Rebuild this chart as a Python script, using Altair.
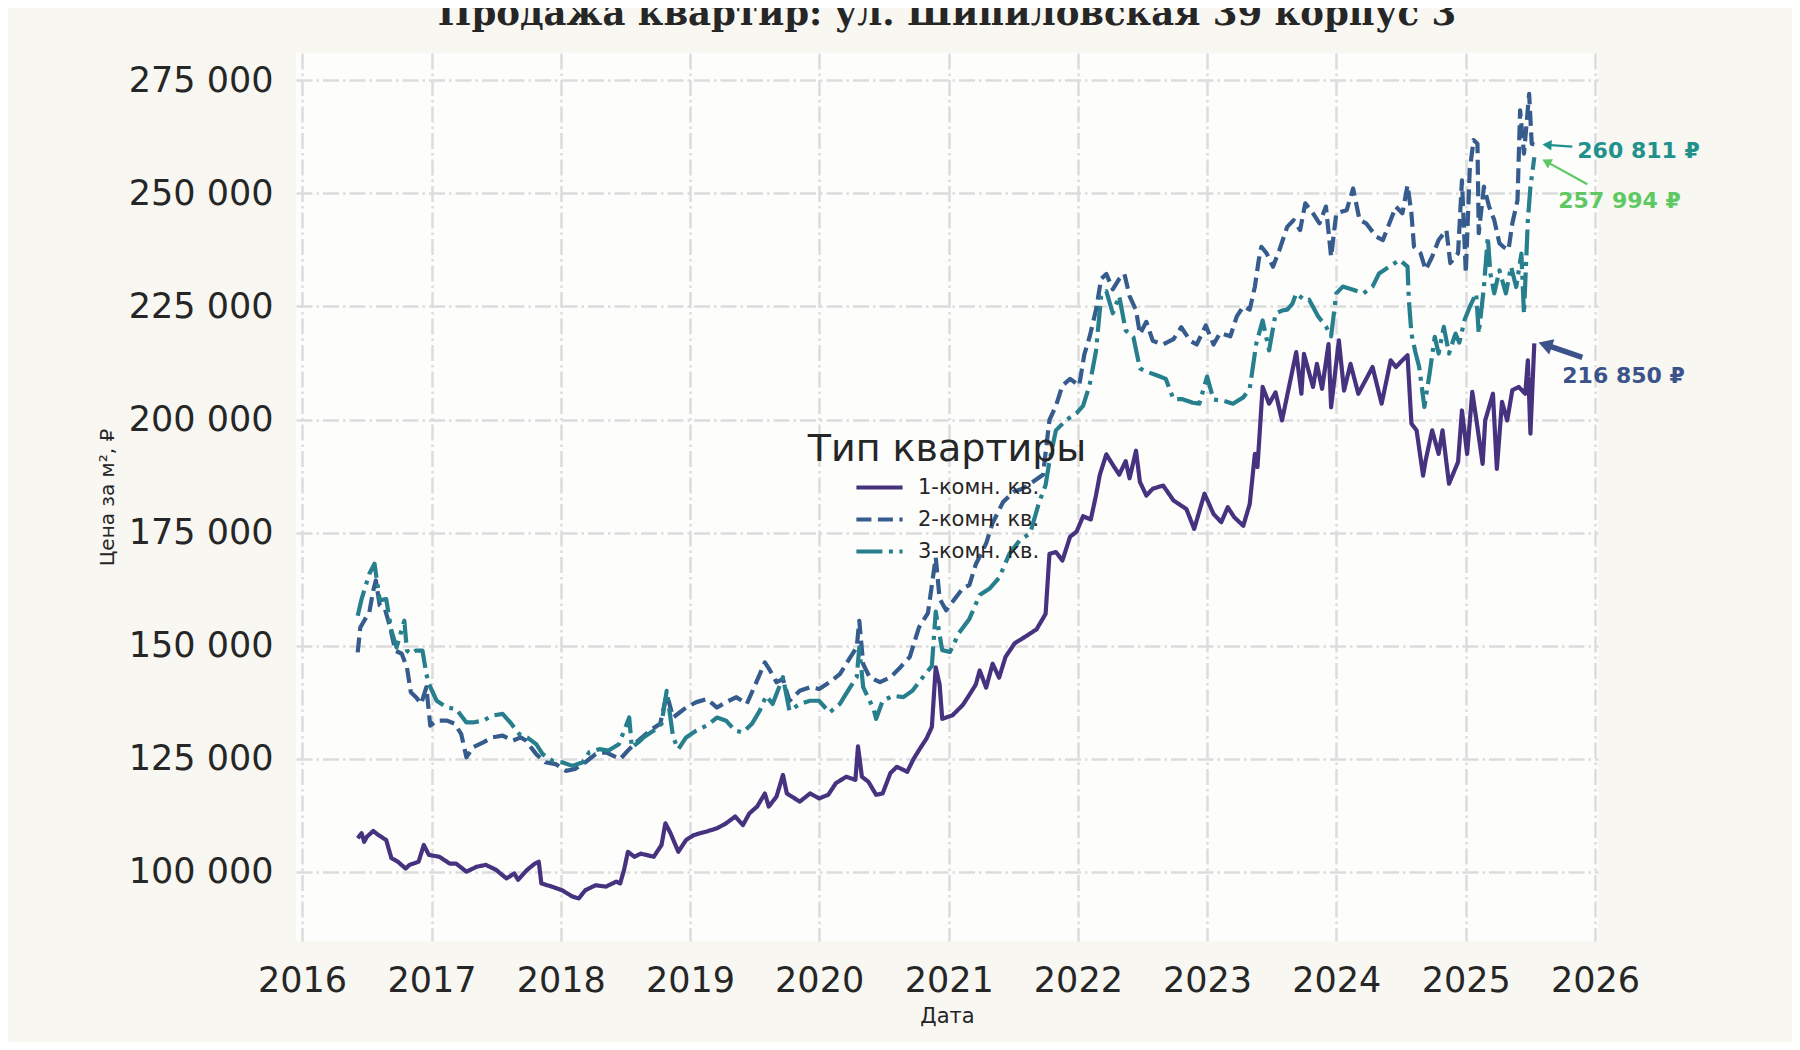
import math
from datetime import datetime

import altair as alt
import pandas as pd

TITLE = "Продажа квартир: ул. Шипиловская 39 корпус 3"
X_TITLE = "Дата"
Y_TITLE = "Цена за м², ₽"
LEGEND_TITLE = "Тип квартиры"
SERIES = ["1-комн. кв.", "2-комн. кв.", "3-комн. кв."]
COLORS = ["#46327e", "#365c8d", "#277f8e"]
DASHES = [[1, 0], [15, 6.5], [26, 6.5, 4, 6.5]]
ANN_LABELS = ["216 850 ₽", "260 811 ₽", "257 994 ₽"]
ANN_COLORS = ["#3b528b", "#21918c", "#5ec962"]
Y_TICKS = [100000, 125000, 150000, 175000, 200000, 225000, 250000, 275000]
X_TICK_YEARS = list(range(2016, 2027))

# 1-комн. кв. (decimal year, thousand roubles per m²)
years1 = [2016.43, 2016.46, 2016.48, 2016.50, 2016.55, 2016.59, 2016.65, 2016.69, 2016.74, 2016.80, 2016.83, 2016.90, 2016.94, 2016.98,
          2017.06, 2017.14, 2017.19, 2017.27, 2017.35, 2017.42, 2017.50, 2017.58, 2017.64, 2017.67, 2017.74, 2017.80, 2017.83, 2017.85, 2017.93,
          2018.01, 2018.09, 2018.14, 2018.19, 2018.27, 2018.35, 2018.43, 2018.46, 2018.49, 2018.52, 2018.57, 2018.62, 2018.72, 2018.78, 2018.81, 2018.85, 2018.91, 2018.97,
          2019.03, 2019.13, 2019.21, 2019.28, 2019.35, 2019.41, 2019.46, 2019.52, 2019.58, 2019.61, 2019.67, 2019.72, 2019.75, 2019.85, 2019.93,
          2020.00, 2020.07, 2020.13, 2020.21, 2020.28, 2020.30, 2020.33, 2020.38, 2020.44, 2020.49, 2020.55, 2020.60, 2020.68, 2020.73, 2020.78, 2020.83, 2020.87, 2020.90, 2020.93, 2020.95,
          2021.03, 2021.11, 2021.16, 2021.21, 2021.24, 2021.29, 2021.34, 2021.39, 2021.44, 2021.51, 2021.60, 2021.68, 2021.75, 2021.78, 2021.83, 2021.88, 2021.94, 2021.99,
          2022.04, 2022.10, 2022.14, 2022.17, 2022.22, 2022.27, 2022.32, 2022.37, 2022.40, 2022.45, 2022.48, 2022.53, 2022.58, 2022.66, 2022.74, 2022.84, 2022.90, 2022.98,
          2023.05, 2023.11, 2023.16, 2023.21, 2023.28, 2023.33, 2023.37, 2023.39, 2023.43, 2023.48, 2023.53, 2023.58, 2023.62, 2023.69, 2023.73, 2023.75, 2023.82, 2023.85, 2023.89, 2023.94, 2023.96,
          2024.02, 2024.06, 2024.11, 2024.17, 2024.28, 2024.35, 2024.42, 2024.46, 2024.51, 2024.55, 2024.58, 2024.62, 2024.67, 2024.69, 2024.74, 2024.79, 2024.82, 2024.87, 2024.94, 2024.97,
          2025.01, 2025.05, 2025.09, 2025.13, 2025.15, 2025.21, 2025.24, 2025.28, 2025.32, 2025.36, 2025.41, 2025.46, 2025.48, 2025.50, 2025.53]
vals1 = [107.4, 108.5, 106.6, 107.7, 109.0, 108.1, 107.0, 103.0, 102.2, 100.7, 101.5, 102.2, 105.9, 103.7,
         103.3, 101.8, 101.8, 100.0, 101.1, 101.5, 100.4, 98.5, 99.6, 98.2, 100.4, 101.8, 102.2, 97.4, 96.7,
         95.9, 94.5, 94.1, 95.9, 97.0, 96.7, 97.8, 97.4, 100.4, 104.4, 103.3, 104.0, 103.3, 105.9, 110.7, 108.5, 104.4, 107.0,
         108.1, 108.9, 109.6, 110.7, 112.2, 110.3, 112.9, 114.4, 117.3, 114.4, 116.6, 121.4, 117.3, 115.5, 117.3,
         116.2, 117.0, 119.6, 121.0, 120.3, 127.7, 121.0, 119.9, 117.0, 117.3, 121.8, 123.2, 122.1, 125.0, 127.3, 129.5, 132.0, 145.2, 141.4, 133.8,
         134.6, 136.9, 139.1, 141.4, 144.5, 140.7, 146.0, 142.9, 147.5, 150.5, 152.1, 153.6, 157.0, 170.3, 170.7, 168.8, 174.1, 175.2,
         178.6, 177.9, 183.2, 187.8, 192.3, 190.0, 187.8, 190.8, 187.0, 193.1, 186.2, 183.2, 184.7, 185.4, 182.1, 180.2, 175.8, 183.6,
         179.1, 177.3, 180.6, 178.4, 176.5, 181.3, 192.4, 189.5, 207.2, 203.5, 206.0, 199.8, 205.3, 214.9, 205.7, 214.5, 207.2, 212.3, 206.8, 216.7, 202.7,
         217.5, 206.4, 212.3, 205.7, 211.6, 203.5, 213.1, 211.6, 213.1, 214.2, 199.1, 197.6, 187.6, 191.0, 197.6, 192.4, 197.6, 185.8, 190.6, 202.0,
         192.4, 206.1, 198.3, 190.2, 199.8, 205.7, 189.1, 203.9, 199.8, 206.5, 207.2, 205.7, 213.1, 196.9, 216.85]

# 2-комн. кв.
years2 = [2016.43, 2016.45, 2016.48, 2016.52, 2016.55, 2016.57, 2016.60, 2016.64, 2016.68, 2016.72, 2016.77, 2016.81, 2016.84, 2016.88, 2016.92, 2016.96, 2016.99,
          2017.04, 2017.12, 2017.18, 2017.23, 2017.27, 2017.32, 2017.40, 2017.47, 2017.55, 2017.63, 2017.69, 2017.73, 2017.81, 2017.88, 2017.96,
          2018.04, 2018.11, 2018.19, 2018.27, 2018.35, 2018.46, 2018.53, 2018.60, 2018.69, 2018.77, 2018.82, 2018.87, 2018.92, 2018.97,
          2019.05, 2019.13, 2019.21, 2019.28, 2019.36, 2019.44, 2019.52, 2019.58, 2019.62, 2019.67, 2019.72, 2019.77, 2019.85, 2019.93,
          2020.00, 2020.08, 2020.16, 2020.24, 2020.29, 2020.31, 2020.34, 2020.39, 2020.47, 2020.55, 2020.62, 2020.70, 2020.77, 2020.84, 2020.90, 2020.93, 2020.98,
          2021.03, 2021.11, 2021.16, 2021.21, 2021.29, 2021.34, 2021.42, 2021.50, 2021.57, 2021.65, 2021.73, 2021.78, 2021.83, 2021.88, 2021.94,
          2022.01, 2022.05, 2022.09, 2022.14, 2022.18, 2022.22, 2022.27, 2022.32, 2022.36, 2022.40, 2022.45, 2022.48, 2022.53, 2022.58, 2022.66, 2022.74, 2022.80, 2022.87, 2022.92, 2022.99,
          2023.05, 2023.10, 2023.18, 2023.23, 2023.28, 2023.33, 2023.37, 2023.40, 2023.42, 2023.46, 2023.51, 2023.56, 2023.62, 2023.67, 2023.72, 2023.76, 2023.82, 2023.87, 2023.92, 2023.96,
          2024.00, 2024.08, 2024.13, 2024.18, 2024.23, 2024.31, 2024.36, 2024.41, 2024.46, 2024.51, 2024.55, 2024.58, 2024.60, 2024.65, 2024.69, 2024.74, 2024.79, 2024.85, 2024.88, 2024.94, 2024.97,
          2025.00, 2025.03, 2025.06, 2025.09, 2025.10, 2025.14, 2025.18, 2025.22, 2025.26, 2025.29, 2025.33, 2025.36, 2025.40, 2025.42, 2025.45, 2025.49, 2025.51, 2025.53]
vals2 = [148.5, 154.0, 155.5, 157.4, 162.2, 164.4, 158.9, 158.1, 154.1, 148.9, 148.2, 145.2, 139.7, 138.6, 137.1, 140.8, 132.3,
         133.4, 133.4, 132.7, 130.4, 125.3, 127.5, 128.6, 129.7, 130.1, 129.0, 129.7, 129.0, 126.0, 124.2, 123.8,
         122.3, 122.7, 124.2, 126.0, 126.4, 124.9, 127.1, 129.0, 131.2, 132.7, 139.3, 134.1, 135.2, 136.3,
         137.5, 138.2, 136.3, 137.5, 138.6, 137.1, 142.3, 146.3, 144.5, 141.9, 142.6, 137.8, 140.0, 140.8,
         140.4, 141.9, 143.7, 147.4, 149.6, 155.5, 145.9, 143.0, 141.9, 143.0, 145.0, 147.5, 154.0, 157.2, 169.5, 160.4, 157.8,
         159.7, 162.7, 163.4, 168.0, 172.6, 177.1, 181.7, 184.0, 184.7, 186.2, 187.8, 199.9, 203.0, 207.5, 209.0,
         207.5, 214.4, 218.2, 224.2, 231.1, 232.2, 228.8, 231.1, 232.2, 227.3, 224.2, 218.9, 221.6, 217.4, 216.6, 217.8, 220.4, 217.4, 216.6, 220.8,
         216.6, 219.1, 218.4, 222.8, 225.0, 224.3, 229.4, 235.3, 238.2, 236.8, 233.8, 237.5, 242.6, 244.1, 241.9, 247.8, 245.6, 243.4, 247.1, 236.0,
         245.6, 246.3, 251.1, 244.1, 243.4, 240.4, 239.7, 243.4, 247.1, 245.6, 251.8, 245.6, 238.2, 236.8, 233.1, 236.0, 239.7, 241.9, 234.6, 236.8, 252.9,
         232.4, 255.1, 261.8, 261.0, 241.2, 251.5, 247.1, 244.1, 239.0, 238.2, 237.5, 243.4, 248.5, 268.4, 258.8, 272.0, 261.0, 260.811]

# 3-комн. кв.
years3 = [2016.43, 2016.46, 2016.52, 2016.56, 2016.60, 2016.65, 2016.69, 2016.73, 2016.79, 2016.81, 2016.84, 2016.88, 2016.93, 2016.96, 2016.98,
          2017.04, 2017.12, 2017.19, 2017.27, 2017.32, 2017.40, 2017.47, 2017.55, 2017.61, 2017.68, 2017.74, 2017.81, 2017.86, 2017.94,
          2018.01, 2018.09, 2018.17, 2018.22, 2018.30, 2018.37, 2018.45, 2018.53, 2018.55, 2018.60, 2018.64, 2018.72, 2018.78, 2018.82, 2018.87, 2018.91, 2018.97,
          2019.05, 2019.13, 2019.21, 2019.28, 2019.35, 2019.41, 2019.48, 2019.54, 2019.59, 2019.64, 2019.72, 2019.77, 2019.85, 2019.93,
          2020.00, 2020.08, 2020.16, 2020.24, 2020.29, 2020.31, 2020.34, 2020.42, 2020.44, 2020.49, 2020.57, 2020.65, 2020.72, 2020.80, 2020.87, 2020.90, 2020.95,
          2021.01, 2021.08, 2021.16, 2021.24, 2021.32, 2021.39, 2021.47, 2021.55, 2021.63, 2021.70, 2021.75, 2021.78, 2021.83, 2021.91, 2021.99,
          2022.04, 2022.09, 2022.14, 2022.18, 2022.22, 2022.27, 2022.32, 2022.37, 2022.43, 2022.48, 2022.53, 2022.61, 2022.68, 2022.74, 2022.81, 2022.89, 2022.94,
          2023.00, 2023.05, 2023.12, 2023.20, 2023.28, 2023.33, 2023.38, 2023.43, 2023.48, 2023.53, 2023.58, 2023.62, 2023.66, 2023.69, 2023.76, 2023.79, 2023.86, 2023.92, 2023.96,
          2024.00, 2024.05, 2024.13, 2024.21, 2024.28, 2024.33, 2024.41, 2024.49, 2024.55, 2024.56, 2024.58, 2024.61, 2024.64, 2024.68, 2024.72, 2024.76, 2024.79, 2024.83, 2024.87, 2024.92, 2024.95, 2024.99,
          2025.03, 2025.08, 2025.10, 2025.14, 2025.17, 2025.19, 2025.22, 2025.26, 2025.31, 2025.35, 2025.39, 2025.43, 2025.45, 2025.48, 2025.50, 2025.53]
vals3 = [156.6, 160.3, 165.9, 168.1, 160.0, 160.3, 153.3, 149.6, 155.5, 148.9, 148.2, 148.9, 148.9, 143.7, 141.5,
         137.8, 136.3, 136.0, 133.0, 133.0, 133.4, 134.5, 134.9, 133.0, 130.4, 129.7, 128.2, 126.0, 124.5,
         124.2, 123.4, 124.2, 126.4, 127.1, 126.8, 128.2, 134.1, 127.5, 128.6, 129.7, 131.2, 132.7, 140.0, 129.7, 127.1, 129.7,
         131.2, 132.3, 134.1, 133.4, 131.2, 130.8, 132.7, 135.6, 138.9, 137.1, 143.0, 135.6, 137.1, 137.8,
         137.8, 135.2, 137.1, 140.8, 143.0, 149.6, 140.8, 136.0, 133.8, 137.8, 138.9, 138.6, 140.0, 143.0, 145.5, 157.5, 149.0,
         148.6, 152.8, 155.9, 161.2, 162.7, 165.0, 170.3, 173.3, 174.8, 181.7, 185.5, 190.8, 197.6, 199.9, 201.4,
         203.0, 207.5, 215.1, 227.3, 228.4, 223.5, 227.3, 219.7, 218.2, 211.3, 210.6, 209.8, 209.0, 204.5, 204.5, 203.7, 203.5,
         209.5, 204.4, 204.2, 203.5, 204.9, 206.8, 216.7, 221.9, 215.3, 223.4, 224.1, 224.3, 225.6, 227.9, 226.3, 226.5, 222.8, 220.6, 218.4,
         227.9, 229.4, 228.7, 227.9, 229.4, 232.3, 233.8, 235.3, 233.8, 226.5, 219.0, 215.0, 211.6, 202.8, 210.1, 218.3, 214.6, 220.5, 214.6, 219.0, 217.0, 222.0,
         224.9, 227.9, 219.0, 229.3, 240.4, 232.3, 227.9, 233.0, 227.9, 233.8, 229.3, 236.7, 223.4, 244.1, 251.5, 257.994]

YEARS = [years1, years2, years3]
VALS = [vals1, vals2, vals3]


def to_ms(y):
    yr = int(y)
    a = datetime(yr, 1, 1)
    b = datetime(yr + 1, 1, 1)
    dt = a + (b - a) * (y - yr)
    return (dt - datetime(1970, 1, 1)).total_seconds() * 1000.0


rows = []
for s, ys, vs in zip(SERIES, YEARS, VALS):
    for y, v in zip(ys, vs):
        rows.append({"date": to_ms(y), "value": v * 1000.0, "series": s})
df = pd.DataFrame(rows)

# ---- layout (pixels) ----
W, H = 1302, 888
TEXT = "#262626"
FONT = "DejaVu Sans"

x_enc = alt.X(
    "date:T",
    scale=alt.Scale(domain=[to_ms(2015.9536), to_ms(2026.023)]),
    axis=alt.Axis(
        values=[to_ms(y) for y in X_TICK_YEARS],
        labelExpr="utcFormat(datum.value, '%Y')",
        labelPadding=22,
        labelFlush=False,
        labelOverlap=False,
        title=X_TITLE,
        titleFontSize=21,
        titleX=W / 2,
        titleY=75,
        titleBaseline="middle",
        titleAlign="center",
    ),
)
y_enc = alt.Y(
    "value:Q",
    scale=alt.Scale(domain=[84670, 281060], nice=False, zero=False),
    axis=alt.Axis(
        values=Y_TICKS,
        labelExpr="replace(format(datum.value, ','), ',', ' ')",
        labelPadding=23,
        title=Y_TITLE,
        titleFontSize=20,
        titleX=-189,
        titleY=H / 2,
        titleAngle=270,
        titleAlign="center",
        titleBaseline="middle",
    ),
)

leg = alt.Legend(
    title=None,
    orient="none",
    legendX=573,
    legendY=424,
    symbolType="M-3.3,0H3.3",
    symbolSize=196,
    symbolStrokeWidth=4,
    labelFontSize=21,
    labelFont=FONT,
    labelColor=TEXT,
    labelOffset=28,
    rowPadding=10,
    padding=0,
)

lines = alt.Chart(df).mark_line(strokeWidth=4.2, strokeCap="butt", strokeJoin="round").encode(
    x=x_enc,
    y=y_enc,
    color=alt.Color("series:N", scale=alt.Scale(domain=SERIES, range=COLORS), legend=leg),
    strokeDash=alt.StrokeDash("series:N", scale=alt.Scale(domain=SERIES, range=DASHES), legend=leg),
)

layers = [lines]

# annotation geometry: (head dx, head dy, tail dx, tail dy, text dx, text dy, width, head size)
ANN_GEOM = [
    (4, -1, 48, 14, 28, 33, 5.5, 260),
    (8, 0, 38, 2, 43, 6, 2.2, 110),
    (8, 2, 53, 27, 24, 44, 2.2, 110),
]
for i, s in enumerate(SERIES):
    last = pd.DataFrame({"date": [to_ms(YEARS[i][-1])], "value": [VALS[i][-1] * 1000.0], "label": [ANN_LABELS[i]]})
    hx, hy, tx, ty, txd, tyd, w, hs = ANN_GEOM[i]
    col = ANN_COLORS[i]
    base = alt.Chart(last)
    layers.append(
        base.mark_text(align="left", baseline="middle", dx=txd, dy=tyd, font=FONT, fontSize=22,
                       fontWeight="bold", color=col).encode(x="date:T", y="value:Q", text="label:N")
    )
    L = math.hypot(tx - hx, ty - hy)
    ux, uy = (tx - hx) / L, (ty - hy) / L
    half = math.sqrt(hs) * 0.45
    layers.append(
        base.mark_rule(color=col, strokeWidth=w, xOffset=hx + ux * half, yOffset=hy + uy * half,
                       x2Offset=tx, y2Offset=ty).encode(
            x="date:T", x2="date", y="value:Q", y2="value")
    )
    ang = (math.degrees(math.atan2(-uy, -ux)) - 180.0) % 360
    layers.append(
        base.mark_point(shape="triangle-left", filled=True, size=hs, angle=ang, color=col, opacity=1,
                        xOffset=hx + ux * half, yOffset=hy + uy * half).encode(x="date:T", y="value:Q")
    )

title_layer = alt.Chart(pd.DataFrame({"t": [TITLE]})).mark_text(
    font="DejaVu Serif", fontSize=35.5, fontWeight="bold", color=TEXT, align="center", baseline="alphabetic"
).encode(text="t:N", x=alt.value(W / 2), y=alt.value(-28.5))

legend_title = alt.Chart(pd.DataFrame({"t": [LEGEND_TITLE]})).mark_text(
    font=FONT, fontSize=38, color=TEXT, align="center", baseline="middle"
).encode(text="t:N", x=alt.value(W / 2), y=alt.value(397))

layers += [title_layer, legend_title]

chart = alt.layer(*layers).properties(
    width=W,
    height=H,
    autosize=alt.AutoSizeParams(type="none"),
    padding={"left": 288, "top": 45, "right": 194, "bottom": 101},
).configure(background="#f8f7f2").configure_view(fill="#fdfdfc", stroke=None).configure_axis(
    grid=True,
    gridColor="#dcdcdc",
    gridWidth=2.5,
    gridDash=[16, 4, 2.5, 4],
    domain=False,
    ticks=False,
    labelFont=FONT,
    labelFontSize=35,
    labelColor=TEXT,
    titleFont=FONT,
    titleColor=TEXT,
    titleFontWeight="normal",
)

chart.save("out.html", embed_options={"renderer": "svg", "actions": False})
